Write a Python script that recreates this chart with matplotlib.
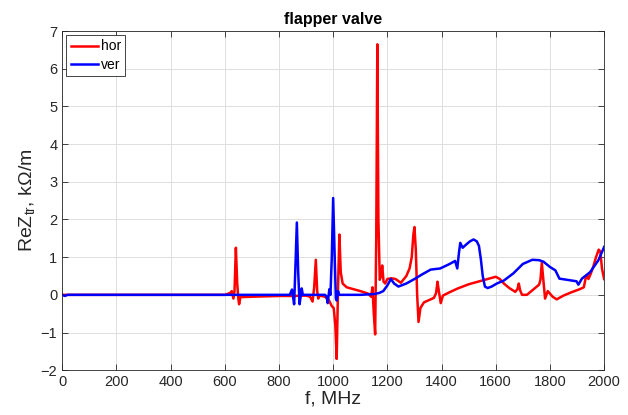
import numpy as np
import matplotlib
matplotlib.use("Agg")
import matplotlib.pyplot as plt

plt.rcParams['font.family'] = ['Liberation Sans', 'DejaVu Sans']
plt.rcParams['mathtext.fontset'] = 'custom'
plt.rcParams['mathtext.rm'] = 'Liberation Sans'
plt.rcParams['mathtext.it'] = 'Liberation Sans:italic'

# horizontal component
f_hor = [0, 600, 620, 626, 632, 636, 641, 646, 650, 653, 658, 665, 700, 800, 850,
         900, 915, 924, 930, 936, 941, 945, 950, 970, 985, 995, 1002, 1008, 1013,
         1018, 1023, 1028, 1035, 1050, 1075, 1100, 1130, 1140, 1145, 1150, 1155,
         1159, 1163, 1167, 1172, 1177, 1181, 1186, 1192, 1200, 1215, 1230, 1250,
         1270, 1282, 1290, 1296, 1300, 1305, 1310, 1315, 1322, 1335, 1360, 1372,
         1380, 1385, 1390, 1397, 1405, 1430, 1460, 1500, 1550, 1600, 1615, 1630,
         1650, 1672, 1680, 1685, 1690, 1697, 1715, 1740, 1760, 1765, 1770, 1775,
         1782, 1792, 1810, 1825, 1850, 1880, 1910, 1925, 1932, 1937, 1942, 1950,
         1960, 1970, 1980, 1986, 1992, 2000]
z_hor = [0, 0, 0.05, 0.1, -0.1, 0.1, 1.25, 0.3, -0.1, -0.25, -0.05, -0.06, -0.05,
         -0.03, -0.03, -0.02, -0.05, -0.18, 0.2, 0.93, 0.1, -0.1, -0.02, -0.05,
         -0.15, -0.3, -0.35, -0.8, -1.7, 0.2, 1.6, 0.6, 0.3, 0.2, 0.15, 0.1, 0.03,
         -0.05, 0.2, -0.5, -1.05, 1.5, 6.65, 2.0, 0.4, 0.5, 0.78, 0.35, 0.3, 0.42,
         0.44, 0.42, 0.32, 0.5, 0.7, 1.0, 1.6, 1.8, 1.2, 0.0, -0.72, -0.35, -0.2,
         -0.12, -0.08, 0.05, 0.35, 0.1, -0.22, -0.02, 0.07, 0.17, 0.28, 0.38, 0.48,
         0.42, 0.3, 0.18, 0.08, 0.15, 0.3, 0.12, 0.0, 0.0, 0.15, 0.27, 0.4, 0.85,
         0.45, -0.1, 0.1, -0.05, -0.12, -0.02, 0.07, 0.15, 0.2, 0.45, 0.52, 0.42,
         0.55, 0.75, 1.0, 1.2, 1.15, 0.7, 0.42]

# vertical component
f_ver = [0, 10, 20, 840, 848, 853, 856, 861, 866, 871, 876, 881, 884, 888, 970,
         976, 980, 986, 990, 995, 1000, 1005, 1010, 1013, 1018, 1022, 1100, 1150,
         1170, 1185, 1200, 1213, 1225, 1241, 1270, 1300, 1330, 1360, 1395, 1430,
         1450, 1458, 1464, 1469, 1478, 1490, 1505, 1518, 1530, 1538, 1545, 1552,
         1560, 1570, 1585, 1604, 1630, 1665, 1700, 1735, 1760, 1776, 1800, 1820,
         1835, 1862, 1898, 1905, 1918, 1948, 1979, 2000]
z_ver = [0, -0.03, 0.0, 0, 0.14, -0.1, -0.25, 0.8, 1.92, 0.6, -0.25, 0.0, 0.17, 0,
         0, -0.05, -0.22, 0.15, 0, 1.0, 2.57, 1.2, -0.1, -0.15, 0.1, 0, 0, 0.02,
         0.05, 0.1, 0.25, 0.42, 0.3, 0.22, 0.3, 0.42, 0.55, 0.67, 0.7, 0.82, 0.9,
         0.7, 1.1, 1.38, 1.25, 1.33, 1.42, 1.47, 1.42, 1.3, 0.95, 0.5, 0.22, 0.18,
         0.22, 0.3, 0.38, 0.57, 0.82, 0.93, 0.92, 0.88, 0.74, 0.65, 0.43, 0.4, 0.36,
         0.27, 0.43, 0.6, 0.92, 1.27]

fig = plt.figure(figsize=(6.28, 4.15), dpi=100)
ax = fig.add_axes([0.099, 0.108, 0.863, 0.817])

ax.plot(f_hor, z_hor, color='red', lw=1.8, label='hor')
ax.plot(f_ver, z_ver, color='blue', lw=1.8, label='ver')

ax.set_xlim(0, 2000)
ax.set_ylim(-2, 7)
ax.set_xticks(np.arange(0, 2001, 200))
ax.set_yticks(np.arange(-2, 8, 1))
ax.grid(True, color='#dfdfdf', lw=0.7)
ax.set_axisbelow(True)
ax.tick_params(direction='in', top=True, right=True, labelsize=10.5,
               colors='#262626', length=4, width=0.6)
for s in ax.spines.values():
    s.set_color('#262626')
    s.set_linewidth(0.6)

ax.set_xlabel('f, MHz', fontsize=14, color='#262626', labelpad=1)
ax.set_ylabel(r'ReZ$_{\mathrm{tr}}$, kΩ/m', fontsize=14, color='#262626', labelpad=3)
ax.set_title('flapper valve', fontsize=11.5, fontweight='bold', pad=5)

leg = ax.legend(loc='upper left', fontsize=10, fancybox=False, framealpha=1,
                edgecolor='#262626', handlelength=2.0, borderaxespad=0.3,
                borderpad=0.3, labelspacing=0.3, handletextpad=0.2)
leg.get_frame().set_linewidth(0.6)

fig.savefig('out.png', dpi=100)
